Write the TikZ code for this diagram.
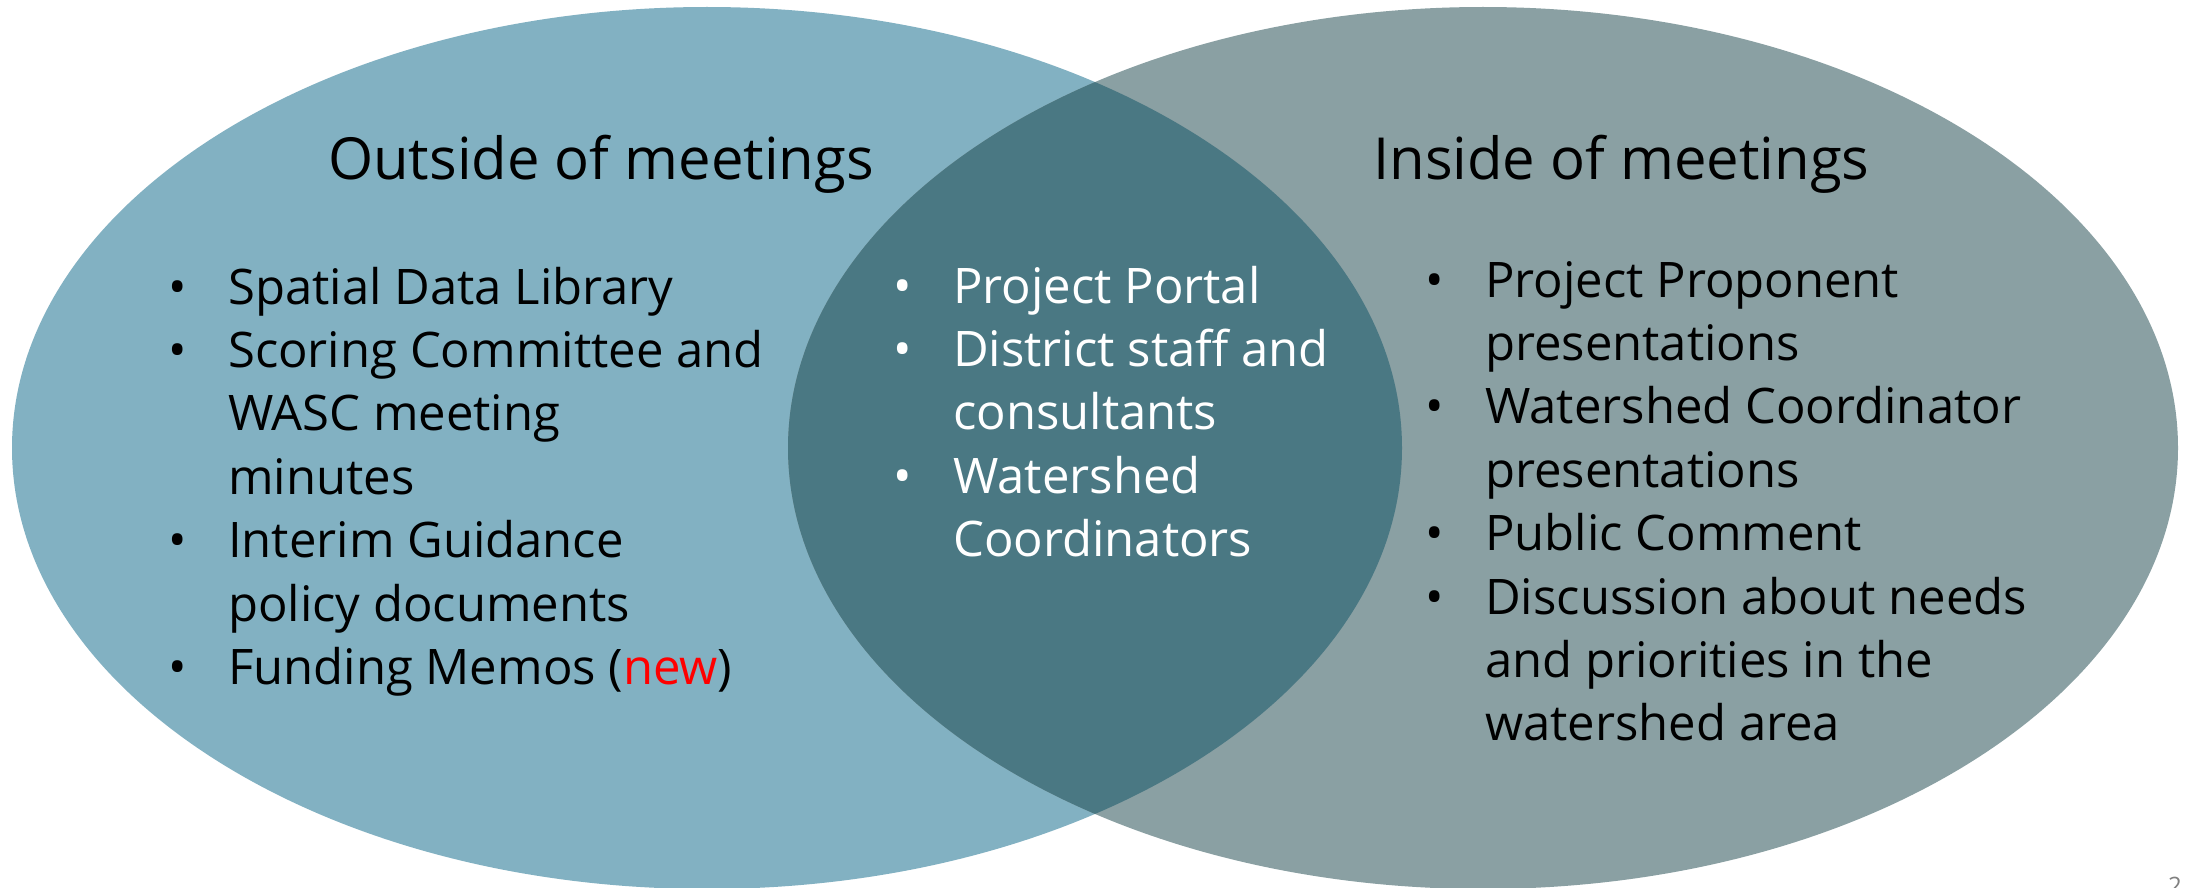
\documentclass[tikz,border=0pt]{standalone}
\usepackage{fontspec}
\setmainfont{Open Sans}
\definecolor{leftfill}{HTML}{82B1C2}
\definecolor{rightfill}{HTML}{8AA0A3}
\definecolor{overlapfill}{HTML}{4A7883}
\definecolor{newred}{HTML}{FF0000}
\definecolor{pagegray}{HTML}{808080}
\newcommand\bitem{\makebox[60pt][l]{\textbullet}}
\newcommand\citem{\hspace*{60pt}}
\tikzset{
  titletext/.style={inner sep=0pt, anchor=base west, font=\fontsize{58}{70}\selectfont},
  listtext/.style={inner sep=0pt, anchor=base west, align=left, font=\fontsize{49}{63.4}\selectfont},
}
\begin{document}
\begin{tikzpicture}[x=1pt,y=-1pt]
\useasboundingbox (0,0) rectangle (2188,888);
\fill[white] (0,0) rectangle (2188,888);
\fill[leftfill] (707,448) ellipse [x radius=695, y radius=441];
\fill[rightfill] (1483,448) ellipse [x radius=695, y radius=441];
\begin{scope}
  \clip (707,448) ellipse [x radius=695, y radius=441];
  \fill[overlapfill] (1483,448) ellipse [x radius=695, y radius=441];
\end{scope}
\node[titletext] (tl) at (328,179) {Outside of meetings};
\node[titletext] (tr) at (1373,179) {Inside of meetings};
% multi-line nodes: base anchor is the baseline of the last line
\node[listtext] (ll) at (168,684.4) {\bitem Spatial Data Library\\
\bitem Scoring Committee and\\
\citem WASC meeting\\
\citem minutes\\
\bitem Interim Guidance\\
\citem policy documents\\
\bitem Funding Memos (\textcolor{newred}{new})};
\node[listtext, text=white] (lm) at (893,556.6) {\bitem Project Portal\\
\bitem District staff and\\
\citem consultants\\
\bitem Watershed\\
\citem Coordinators};
\node[listtext] (lr) at (1425,740.8) {\bitem Project Proponent\\
\citem presentations\\
\bitem Watershed Coordinator\\
\citem presentations\\
\bitem Public Comment\\
\bitem Discussion about needs\\
\citem and priorities in the\\
\citem watershed area};
\node[inner sep=0pt, anchor=north west, text=pagegray, font=\fontsize{24}{28}\selectfont] (pg) at (2168,877) {2};
\end{tikzpicture}
\end{document}
